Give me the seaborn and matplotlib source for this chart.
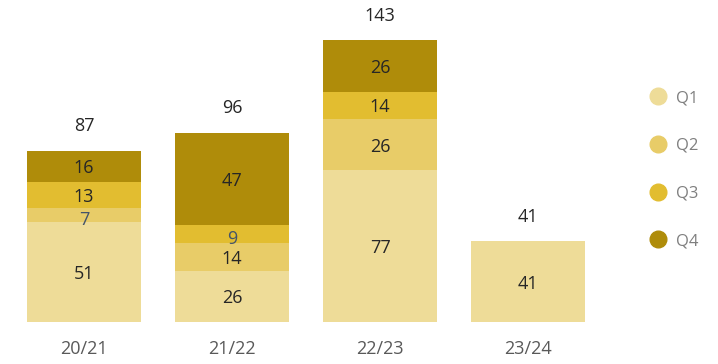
import matplotlib
matplotlib.use("Agg")
import matplotlib.pyplot as plt
from matplotlib.lines import Line2D
import seaborn as sns
import pandas as pd
import numpy as np

categories = ["20/21", "21/22", "22/23", "23/24"]
q1 = [51, 26, 77, 41]
q2 = [7, 14, 26, 0]
q3 = [13, 9, 14, 0]
q4 = [16, 47, 26, 0]
series_names = ["Q1", "Q2", "Q3", "Q4"]
colors = ["#EEDC98", "#E8CC68", "#E2BD30", "#AF8C0A"]

sns.set_theme(style="white")
plt.rcParams["font.family"] = ["Open Sans", "DejaVu Sans"]

series = [q1, q2, q3, q4]
df = pd.DataFrame({"cat": categories})
for name, vals in zip(series_names, series):
    df[name] = vals
cum = np.cumsum(np.array(series), axis=0)
totals = cum[-1]

fig = plt.figure(figsize=(7.18, 3.64), dpi=100)
ax = fig.add_axes([0.0, 42 / 364, 600 / 718, 322 / 364])

for i in range(3, -1, -1):
    d = pd.DataFrame({"cat": categories, "v": cum[i]})
    sns.barplot(data=d, x="cat", y="v", color=colors[i], width=0.77,
                saturation=1, ax=ax, errorbar=None, linewidth=0)

ax.set_xlim(-0.568, 3.486)
ax.set_ylim(0, 163.5)
ax.set_xlabel("")
ax.set_ylabel("")
ax.set_yticks([])
for s in ax.spines.values():
    s.set_visible(False)
ax.tick_params(axis="x", length=0, labelsize=13, labelcolor="#595959", pad=13)

for j in range(len(categories)):
    base = 0
    for i in range(4):
        v = series[i][j]
        if v > 0:
            small = v < 10
            ax.text(j, base + v / 2 - (2.5 if small else 1.0), str(v), ha="center", va="center",
                    fontsize=13, color="#44546A" if small else "#262626")
        base += v
    ax.text(j, totals[j] + 12.5, str(totals[j]), ha="center", va="center",
            fontsize=13, color="#262626")

handles = [Line2D([0], [0], marker="o", linestyle="", markersize=12,
                  markerfacecolor=c, markeredgecolor=c) for c in colors]
fig.legend(handles, series_names, loc="upper left", bbox_to_anchor=(640 / 718, 1 - 82 / 364),
           frameon=False, fontsize=12, labelcolor="#7F7F7F", labelspacing=1.9,
           handletextpad=0.45, handlelength=1.2, borderpad=0)

fig.savefig("out.png", dpi=100)
